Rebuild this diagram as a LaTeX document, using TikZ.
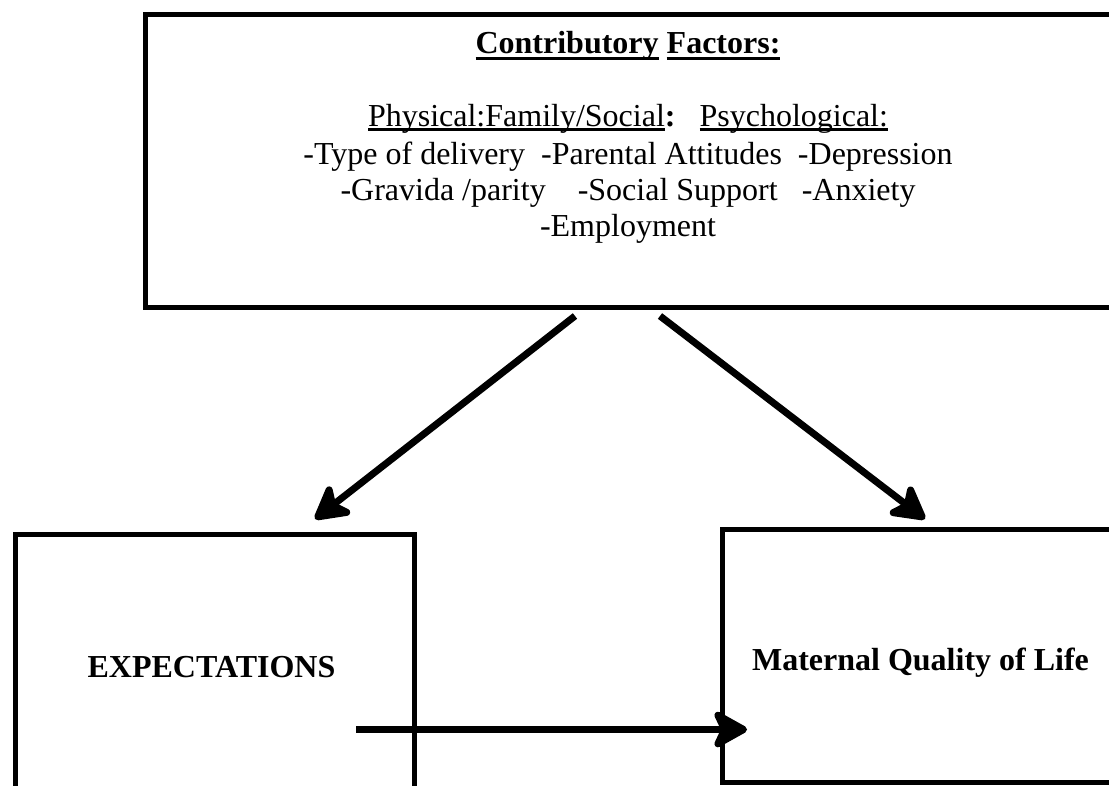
\documentclass[tikz,border=0pt]{standalone}
\usepackage{fontspec}
\setmainfont{Liberation Serif}
\usetikzlibrary{arrows.meta}
\newcommand\myulb[1]{\setbox0\hbox{#1}\rlap{\rule[-7pt]{\wd0}{3.5pt}}\box0\relax}
\newcommand\myulr[1]{\setbox0\hbox{#1}\rlap{\rule[-4.5pt]{\wd0}{2.2pt}}\box0\relax}
\begin{document}
\begin{tikzpicture}[x=1pt,y=-1pt,
  boxe/.style={draw=black, line width=5pt, inner sep=0pt, anchor=north west},
  txt/.style={inner sep=0pt, anchor=base, font=\fontsize{32}{36}\selectfont},
  arr/.style={line width=7pt, -{Stealth[length=40pt,width=44pt,inset=10pt,round]}}]
\useasboundingbox (0,0) rectangle (1109,785);
\clip (0,0) rectangle (1109,785);
\fill[white] (0,0) rectangle (1109,785);
% boxes
\node[boxe, minimum width=971.5pt, minimum height=293.5pt] (top) at (142.5,11.5) {};
\node[boxe, minimum width=399.5pt, minimum height=268pt] (expect) at (12.5,532) {};
\node[boxe, minimum width=401pt, minimum height=253pt] (mqol) at (720,527) {};
% top text
\node[txt] (t1) at (628,53) {\bfseries\myulb{Contributory} \myulb{Factors:}};
\node[txt] (t2) at (628,126) {\myulr{Physical:Family/Social}\textbf{:}\ \ \ \myulr{Psychological:}};
\node[txt] (t3) at (628,164) {-Type of delivery\ \ -Parental Attitudes\ \ -Depression};
\node[txt] (t4) at (628,200) {-Gravida /parity\ \ \ \ -Social Support\ \ \ -Anxiety};
\node[txt] (t5) at (628,236) {-Employment};
% bottom texts
\node[txt] (e1) at (211.5,677) {\bfseries EXPECTATIONS};
\node[txt] (m1) at (920.5,670) {\bfseries Maternal Quality of Life};
% arrow ends
\coordinate (ls) at (575,316);
\coordinate (le) at (315,519);
\coordinate (rs) at (660,316);
\coordinate (re) at (925,519);
\coordinate (hs) at (356,729.5);
\coordinate (he) at (747,729.5);
\draw[arr] (ls) -- (le);
\draw[arr] (rs) -- (re);
\draw[arr] (hs) -- (he);
\end{tikzpicture}
\end{document}
